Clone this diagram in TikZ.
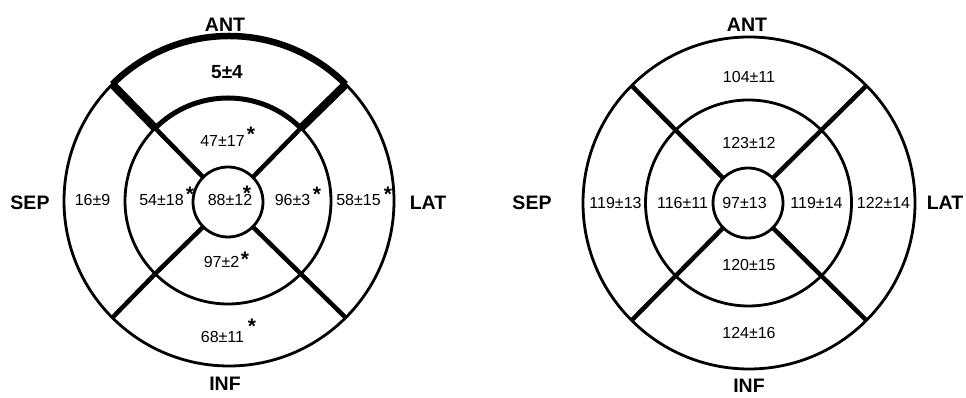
\documentclass[tikz,border=0pt]{standalone}
\usepackage{fontspec}
\setmainfont{Liberation Sans}
\begin{document}
\begin{tikzpicture}[x=1pt,y=1pt,
  ring/.style={circle,draw,line width=2.8pt,inner sep=0pt,outer sep=0pt},
  divider/.style={line width=4.5pt},
  hidivider/.style={line width=8pt},
  hiarc/.style={line width=6.5pt},
  num/.style={inner sep=0pt,font=\fontsize{16}{18}\selectfont},
  bignum/.style={inner sep=0pt,font=\bfseries\fontsize{19}{22}\selectfont},
  lab/.style={inner sep=0pt,font=\bfseries\fontsize{19.5}{22}\selectfont},
  star/.style={inner sep=0pt,anchor=base,font=\bfseries\fontsize{21}{24}\selectfont}]
\useasboundingbox (0,0) rectangle (966,398);
% ---------- left bull's eye ----------
\node[ring,minimum size=330pt] (Lout) at (229,197) {};
\node[ring,minimum size=206pt] (Lmid) at (228,197) {};
\node[ring,minimum size=70pt]  (Lin)  at (228,196) {};
\foreach \a in {45,135,225,315}{\draw[divider] (Lin.\a) -- (Lmid.\a);}
\foreach \a in {225,315}{\draw[divider] (Lmid.\a) -- (Lout.\a);}
\foreach \a in {45,135}{\draw[hidivider] (Lmid.\a) -- (Lout.\a);}
\draw[hiarc] (Lout.135) arc[start angle=135,end angle=45,radius=165pt];
\draw[line width=5pt] (Lmid.135) arc[start angle=135,end angle=45,radius=103pt];
\node[bignum] (L1) at (227,326) {5±4};
\node[num] (L2) at (222.5,257) {47±17};
\node[star] (L2s) at (251,256) {*};
\node[num] (L3) at (92.5,198) {16±9};
\node[num] (L4) at (161.5,198) {54±18};
\node[star] (L4s) at (190,196) {*};
\node[num] (L5) at (230,198) {88±12};
\node[star] (L5s) at (247,197) {*};
\node[num] (L6) at (292.5,198) {96±3};
\node[star] (L6s) at (317,196) {*};
\node[num] (L7) at (358.5,198) {58±15};
\node[star] (L7s) at (388,196) {*};
\node[num] (L8) at (221.5,136) {97±2};
\node[star] (L8s) at (245,131) {*};
\node[num] (L9) at (222.5,61) {68±11};
\node[star] (L9s) at (252,64) {*};
\node[lab] (LANT) at (225,373) {ANT};
\node[lab] (LINF) at (225,14) {INF};
\node[lab] (LSEP) at (30,195) {SEP};
\node[lab] (LLAT) at (428,195) {LAT};
% ---------- right bull's eye ----------
\node[ring,minimum size=332pt] (Rout) at (749,195) {};
\node[ring,minimum size=206pt] (Rmid) at (748.5,195) {};
\node[ring,minimum size=70pt]  (Rin)  at (748,195) {};
\foreach \a in {45,135,225,315}{
  \draw[divider] (Rin.\a) -- (Rmid.\a);
  \draw[divider] (Rmid.\a) -- (Rout.\a);}
\node[num] (R1) at (749,321) {104±11};
\node[num] (R2) at (749,255) {123±12};
\node[num] (R3) at (615.5,195) {119±13};
\node[num] (R4) at (682.5,195) {116±11};
\node[num] (R5) at (744.5,195) {97±13};
\node[num] (R6) at (816.5,195) {119±14};
\node[num] (R7) at (883.5,195) {122±14};
\node[num] (R8) at (749,133) {120±15};
\node[num] (R9) at (749,65) {124±16};
\node[lab] (RANT) at (747,373) {ANT};
\node[lab] (RINF) at (749,12) {INF};
\node[lab] (RSEP) at (532,195) {SEP};
\node[lab] (RLAT) at (945,195) {LAT};
\end{tikzpicture}
\end{document}
